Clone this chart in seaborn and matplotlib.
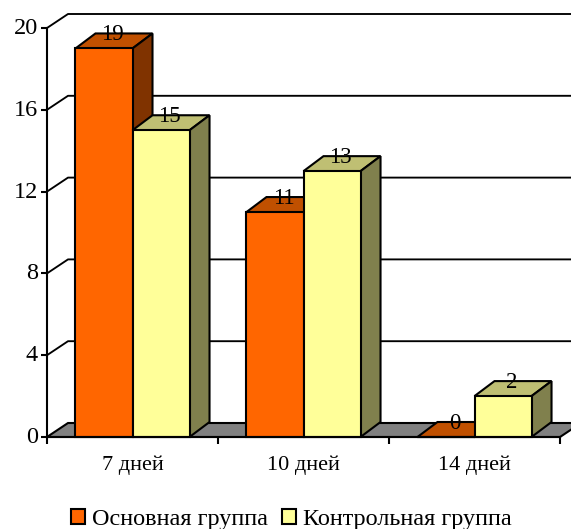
import matplotlib
matplotlib.use("Agg")
import matplotlib.pyplot as plt
from matplotlib.patches import Polygon
from matplotlib.transforms import ScaledTranslation
import pandas as pd
import seaborn as sns

periods = ["7 дней", "10 дней", "14 дней"]
main_group = [19, 11, 0]
control_group = [15, 13, 2]
group_names = ["Основная группа", "Контрольная группа"]
y_ticks = [0, 4, 8, 12, 16, 20]

FRONT = ["#FF6600", "#FFFF99"]
TOP = ["#C05000", "#BFBF73"]
SIDE = ["#803300", "#80804D"]
FLOOR = "#808080"
LW = 1.5

sns.set_theme(style="white")
plt.rcParams["font.family"] = ["Liberation Serif", "DejaVu Serif"]

df = pd.DataFrame({
    "period": periods * 2,
    "group": [group_names[0]] * 3 + [group_names[1]] * 3,
    "count": main_group + control_group,
})

fig = plt.figure(figsize=(5.71, 5.29), dpi=100)
ax = fig.add_axes([47 / 571, 1 - 437 / 529, 513 / 571, 409 / 529])
sns.barplot(data=df, x="period", y="count", hue="group", palette=FRONT,
            width=0.667, gap=0, dodge=True, saturation=1, errorbar=None,
            edgecolor="black", linewidth=LW, ax=ax)
ax.set_xlim(-0.5, 2.5)
ax.set_ylim(0, 20)
ax.set_xlabel("")
ax.set_ylabel("")
ax.patch.set_alpha(0)

# Pixel depth of the oblique projection, expressed in data units
px_x = 3 / 513
px_y = 20 / 409
wall_dx, wall_dy = 21 * px_x, 14 * px_y
bar_dx, bar_dy = 20 * px_x, 15 * px_y

# Floor and back wall
ax.add_patch(Polygon([(-0.5, 0), (-0.5 + wall_dx, wall_dy), (2.5 + wall_dx, wall_dy), (2.5, 0)],
                     closed=True, facecolor=FLOOR, edgecolor="black", linewidth=LW,
                     clip_on=False, zorder=1.5))
for v in y_ticks[1:]:
    ax.plot([-0.5, -0.5 + wall_dx, 2.5 + wall_dx], [v, v + wall_dy, v + wall_dy],
            color="black", linewidth=LW * 0.9, clip_on=False, zorder=1)

# Top and side faces of each bar, with value labels above them
for i, container in enumerate(ax.containers):
    for bar, value in zip(container.patches, [main_group, control_group][i]):
        x0, x1 = bar.get_x(), bar.get_x() + bar.get_width()
        h = value
        bar.set_zorder(4 + 2 * i)
        bar.set_clip_on(False)
        ax.add_patch(Polygon([(x0, h), (x0 + bar_dx, h + bar_dy), (x1 + bar_dx, h + bar_dy), (x1, h)],
                             closed=True, facecolor=TOP[i], edgecolor="black", linewidth=LW,
                             clip_on=False, zorder=3 + 2 * i))
        ax.add_patch(Polygon([(x1, 0), (x1 + bar_dx, bar_dy), (x1 + bar_dx, h + bar_dy), (x1, h)],
                             closed=True, facecolor=SIDE[i], edgecolor="black", linewidth=LW,
                             clip_on=False, zorder=3 + 2 * i))
        ax.annotate(str(value), xy=((x0 + x1) / 2, h), xytext=(6.2, 10),
                    textcoords="offset points", ha="center", va="center",
                    fontsize=16.5, color="black", zorder=10, annotation_clip=False)

# Axes, ticks and labels
sns.despine(ax=ax, top=True, right=True)
for side in ("left", "bottom"):
    ax.spines[side].set_linewidth(LW)
    ax.spines[side].set_color("black")
    ax.spines[side].set_zorder(2)
ax.spines["bottom"].set_zorder(9)

ax.set_yticks(y_ticks)
ax.set_yticklabels([str(v) for v in y_ticks], fontsize=17.5, color="black")
ax.tick_params(axis="y", left=True, length=4.5, width=LW, color="black", pad=2)
raise_labels = ScaledTranslation(0, 2 / 100, fig.dpi_scale_trans)
for label in ax.get_yticklabels():
    label.set_transform(label.get_transform() + raise_labels)
ax.set_xticks([-0.5, 0.5, 1.5, 2.5])
ax.set_xticklabels([])
ax.set_xticks([0, 1, 2], minor=True)
ax.set_xticklabels(periods, minor=True, fontsize=16, color="black")
ax.tick_params(axis="x", which="major", bottom=True, length=5, width=LW, color="black")
ax.tick_params(axis="x", which="minor", bottom=False, length=0, pad=13.5)

# Legend
handles, labels = ax.get_legend_handles_labels()
ax.legend(handles, labels, loc="center", bbox_to_anchor=(291.5 / 571, 1 - 519.5 / 529),
          bbox_transform=fig.transFigure, ncol=2, frameon=False, fontsize=17.5,
          handlelength=0.57, handleheight=0.57, handletextpad=0.3, columnspacing=0.55,
          borderpad=0, labelcolor="black")

fig.savefig("out.png", dpi=100)
